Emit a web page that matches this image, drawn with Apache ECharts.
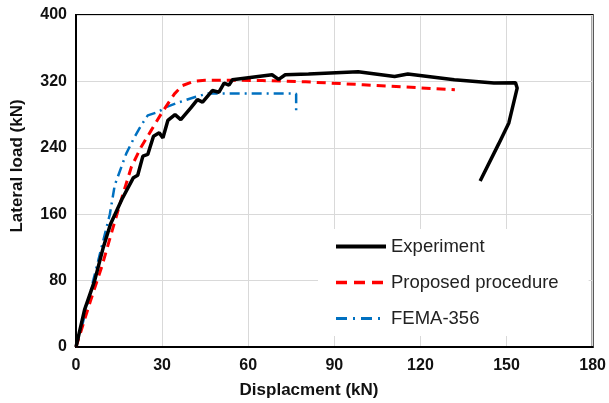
<!DOCTYPE html>
<html><head><meta charset="utf-8">
<script src="https://cdn.jsdelivr.net/npm/echarts@6/dist/echarts.min.js"></script>
<style>html,body{margin:0;padding:0;background:#fff}#c{width:609px;height:403px}</style>
</head><body><div id="c"></div>
<script>
var xTicks = [0, 30, 60, 90, 120, 150, 180];
var yTicks = [0, 80, 160, 240, 320, 400];
var seriesNames = ['Experiment', 'Proposed procedure', 'FEMA-356'];
var experiment = [[0,0],[3,45],[6.5,80],[9.5,120],[12,148],[16,178],[20,204],[21.5,207],[23.3,230],[25,232],[27,254],[29,258],[30.3,252],[32,273],[34.5,280],[36.5,274],[40,288],[42.3,298],[44.1,295],[47.5,309],[49.8,307],[51.6,318],[53.3,315.5],[54.5,322],[68.3,328],[70.6,322.5],[72.9,328],[81,329],[98.3,331.5],[111,326],[115.6,329],[131.8,322],[145.6,318],[153.1,318.5],[153.7,312],[150.8,270],[147.3,245],[140.8,200]];
var proposed = [[0,0],[5,55],[9,97],[13,145],[15.2,171],[19.3,217],[22.7,241],[26.2,261],[29.7,281],[34.3,305],[37.1,315],[41,320],[45,321.5],[55,321.5],[65,321],[80,319.5],[100,316],[132,310]];
var fema = [[0,0],[2,24],[6,80],[8.9,120],[11.8,160],[13.5,195],[17.5,233],[20.4,253],[22.7,267],[25,279],[28.5,283],[31.4,289],[36,295],[41.8,301.5],[46,305.5],[75.5,305.5],[76.7,305],[76.7,284]];

var chart = echarts.init(document.getElementById('c'), null, {renderer:'canvas'});
var font = 'Liberation Sans';
chart.setOption({
  animation: false,
  grid: {left:76, right:13, top:15, bottom:56, show:true, borderColor:'#000', borderWidth:2},
  xAxis: {type:'value', min:xTicks[0], max:xTicks[xTicks.length-1], interval:30,
    axisLine:{show:true, lineStyle:{color:'#000', width:2}}, axisTick:{show:false},
    splitLine:{show:true, lineStyle:{color:'#d9d9d9', width:1}},
    axisLabel:{fontFamily:font, fontWeight:'bold', fontSize:16, color:'#111', margin:11}},
  yAxis: {type:'value', min:yTicks[0], max:yTicks[yTicks.length-1], interval:80,
    axisLine:{show:true, lineStyle:{color:'#000', width:2}}, axisTick:{show:false},
    splitLine:{show:true, lineStyle:{color:'#d9d9d9', width:1}},
    axisLabel:{fontFamily:font, fontWeight:'bold', fontSize:16, color:'#111', margin:9}},
  legend: {orient:'vertical', left:318, top:229, width:266, itemWidth:50, itemHeight:14, itemGap:17,
    backgroundColor:'#fff', padding:[8, 30, 8, 16],
    itemStyle:{opacity:0},
    textStyle:{fontFamily:font, fontSize:18.5, color:'#222'},
    data: [
      {name:seriesNames[0], itemStyle:{opacity:0}, lineStyle:{width:4}},
      {name:seriesNames[1], itemStyle:{opacity:0}, lineStyle:{width:3.5, type:[11,7]}},
      {name:seriesNames[2], itemStyle:{opacity:0}, lineStyle:{width:3, type:[11,6,2,6]}}
    ]},
  graphic: [
    {type:'text', x:17, y:166, rotation:Math.PI/2, style:{text:'Lateral load (kN)', fontFamily:font, fontWeight:'bold', fontSize:17, fill:'#111', textAlign:'center', textVerticalAlign:'middle'}},
    {type:'text', x:309, y:390, style:{text:'Displacment (kN)', fontFamily:font, fontWeight:'bold', fontSize:17, fill:'#111', textAlign:'center', textVerticalAlign:'middle'}}
  ],
  series: [
    {name:seriesNames[0], type:'line', data:experiment, showSymbol:false, symbol:'none', lineStyle:{color:'#000', width:3.5}, itemStyle:{color:'#000'}, z:3},
    {name:seriesNames[1], type:'line', data:proposed, showSymbol:false, symbol:'none', lineStyle:{color:'#ff0000', width:3, type:[9,6]}, itemStyle:{color:'#ff0000'}, z:2},
    {name:seriesNames[2], type:'line', data:fema, showSymbol:false, symbol:'none', lineStyle:{color:'#0070c0', width:2.5, type:[10,5,2,5]}, itemStyle:{color:'#0070c0'}, z:1}
  ]
});
</script></body></html>
